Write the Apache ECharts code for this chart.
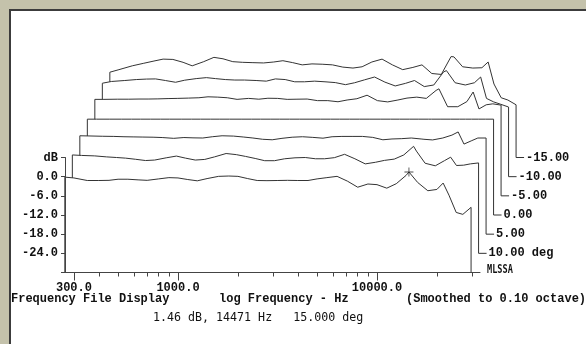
<!DOCTYPE html>
<html>
<head>
<meta charset="utf-8">
<script src="https://cdn.jsdelivr.net/npm/echarts@6/dist/echarts.min.js"></script>
<style>
html, body { margin: 0; padding: 0; width: 586px; height: 344px; overflow: hidden; background: #c4c2ab; }
#panel { position: absolute; left: 9px; top: 9px; width: 575px; height: 333px; background: #fff;
         border-left: 2px solid #3c3c3c; border-top: 2px solid #3c3c3c; }
#chart { position: absolute; left: 0; top: 0; width: 586px; height: 344px; }
</style>
</head>
<body>
<div id="panel"></div>
<div id="chart"></div>
<script>
// frequencies (Hz) shared by every curve
const freqHz = [270, 300, 350, 400, 450, 500, 560, 630, 700, 800, 900, 1000, 1120, 1250, 1400,
  1600, 1800, 2000, 2240, 2500, 2800, 3150, 3550, 4000, 4500, 5000, 5600, 6300, 7100, 8000,
  9000, 10000, 11200, 12500, 14000, 14471, 16000, 18000, 20000, 21500, 23000, 25000, 27000, 29700];

// response per angle, dB (front curve first)
const db15 = [-0.15, -0.4, -1.2, -1.2, -1.15, -0.8, -0.8, -1.0, -1.15, -0.7, -0.3, -0.4, -0.9, -1.3, -0.6,
  0.1, 0.2, 0.1, -0.6, -1.2, -1.25, -1.2, -1.15, -1.2, -1.2, -0.7, -0.3, 0.1, -1.4, -3.3,
  -2.3, -2.5, -3.6, -2.2, 0.4, 1.46, -1.8, -4.4, -4.0, -2.0, -5.8, -11.2, -11.8, -9.6];
const db10 = [0.8, 0.65, 0.5, 0.2, 0.0, -0.2, -0.55, -0.95, -0.8, -0.1, 0.45, -0.2, -0.8, -0.6, 0.2,
  1.25, 0.9, 0.35, -0.3, -1.0, -1.0, -0.4, -0.1, 0.0, -0.4, -0.4, -0.05, 1.0, -0.4, -2.0,
  -1.5, -0.9, -0.5, 0.8, 3.5, 2.0, -1.8, -2.6, -1.0, 0.1, -2.5, -2.4, -2.0, -1.7];
const db5 = [0.8, 0.75, 0.65, 0.6, 0.5, 0.45, 0.4, 0.35, 0.25, 0.0, 0.25, 0.15, 0.1, 0.5, 0.8,
  0.7, 0.4, 0.1, -0.3, -0.45, 0.0, 0.35, 0.5, 0.3, 0.05, 0.5, 0.6, 0.6, 0.6, 0.3,
  -0.45, -0.2, -0.1, 0.1, -0.2, -0.3, -0.5, 0.1, 1.0, 2.0, -1.8, -0.8, 0.1, 0.1];
const db0 = [0, 0, 0, 0, 0, 0, 0, 0, 0, 0, 0, 0, 0, 0, 0,
  0, 0, 0, 0, 0, 0, 0, 0, 0, 0, 0, 0, 0, 0, 0,
  0, 0, 0, 0, 0, 0, 0, 0, 0, 0, 0, 0, 0, 0];
const dbM5 = [0.2, 0.2, 0.25, 0.25, 0.3, 0.3, 0.35, 0.45, 0.5, 0.6, 0.7, 1.0, 0.9, 0.7, 0.2,
  0.5, 0.25, 0.55, 0.5, 0.2, 0.25, 0.3, -0.2, -0.2, -0.55, 0.0, 0.4, 1.5, -0.2, -0.6,
  0.0, 0.6, 0.9, 0.5, 3.0, 3.5, -2.1, -2.1, -0.5, 2.5, -2.8, -1.5, -1.2, -1.6];
const dbM10 = [-0.75, -0.2, 0.1, 0.4, 0.55, 0.6, 0.1, -0.45, 0.2, 0.7, 1.0, 0.7, 0.4, 0.25, 0.25,
  0.1, -0.1, 0.6, 0.4, -0.3, -0.3, -0.1, -0.3, -0.55, -1.2, -0.6, 0.3, 1.2, -0.4, -1.6,
  -0.8, 0.1, -1.8, -1.3, 2.8, 3.2, -0.6, -1.3, -0.6, 1.2, -5.5, -6.6, -7.3, -8.2];
const dbM15 = [-3.3, -2.5, -1.3, -0.5, 0.2, 0.8, 0.7, -0.2, -1.3, 0.0, 1.35, 0.9, 0.0, -0.2, -0.3,
  -0.4, -0.1, 0.3, -0.3, -1.0, -0.7, -0.8, -1.0, -1.7, -2.0, -1.6, -0.1, 0.8, -1.0, -2.5,
  -1.8, -1.0, -3.7, -4.0, 1.6, 1.5, -1.6, -2.0, -1.9, -0.1, -7.0, -11.3, -12.0, -13.5];

const dbSeries = [db15, db10, db5, db0, dbM5, dbM10, dbM15];
const curveLabels = ['MLSSA', '10.00 deg', '5.00', '0.00', '-5.00', '-10.00', '-15.00'];

const tickHz = [300, 400, 500, 600, 700, 800, 900, 1000, 2000, 3000, 4000, 5000, 6000, 7000,
  8000, 9000, 10000, 20000, 30000];
const labelHz = [300, 1000, 10000];

const cursorHz = 14471, cursorDb = 1.46, cursorDeg = 15;

// layout
const MONO = '"Liberation Mono", "DejaVu Sans Mono", monospace';
const TALL = '"DejaVu Sans Mono", monospace';
const PX_DEC = 199, PX_DB = 115 / 36;
const X_MIN = Math.log10(270.5);
const SHIFT = 7.5 / PX_DEC;    // each curve behind steps right
const TAIL = 8 / PX_DEC;       // little leader line to the angle label
const STEP_DB = 6, Y_MIN = -30, Y_MAX = 6, Y_TOP = 46;
const LINE = '#333';

const lx = freqHz.map(f => Math.log10(f));
const log = arr => arr.map(f => Math.log10(f));

// back curves first; each one gets its own z so the white fill of a
// nearer curve hides whatever lies behind it
const series = [];
for (let k = dbSeries.length - 1; k >= 0; k--) {
    const dx = k * SHIFT, base = Y_MIN + k * STEP_DB;
    const first = lx[0] + dx, last = lx[lx.length - 1] + dx;
    const pts = [[first, base]];
    lx.forEach((x, i) => pts.push([x + dx, dbSeries[k][i] + k * STEP_DB]));
    pts.push([last, base]);
    if (k > 0) pts.push([last + TAIL, base]);
    series.push({
        type: 'line', xAxisIndex: 2, yAxisIndex: 1, data: pts, z: 10 - k,
        showSymbol: false, silent: true,
        lineStyle: {color: LINE, width: 1},
        areaStyle: {color: '#fff', opacity: 1, origin: base},
        endLabel: k > 0 ? {
            show: true, formatter: curveLabels[k], distance: 2,
            color: '#111', fontFamily: MONO, fontWeight: 'bold', fontSize: 12,
        } : {show: false},
    });
}
// cursor
series.push({
    type: 'scatter', xAxisIndex: 2, yAxisIndex: 1, silent: true, z: 30,
    data: [[Math.log10(cursorHz), cursorDb]],
    symbol: 'path://M0,4.5H10V5.5H0ZM4.5,0H5.5V10H4.5Z', symbolSize: 9,
    itemStyle: {color: '#222'},
});

const g0 = {left: 65, top: 157.5, width: 415, height: 115};
const g1 = {left: 65, top: 272.5 - (Y_TOP - Y_MIN) * PX_DB, width: 521, height: (Y_TOP - Y_MIN) * PX_DB};

const labelFont = {color: '#111', fontFamily: MONO, fontWeight: 'bold', fontSize: 12};

const option = {
    animation: false,
    grid: [g0, g1],
    xAxis: [
        {
            type: 'value', gridIndex: 0, position: 'bottom', z: 20,
            min: X_MIN, max: X_MIN + g0.width / PX_DEC,
            axisLine: {show: true, onZero: false, lineStyle: {color: '#444', width: 1}},
            axisTick: {show: true, inside: false, length: 4, customValues: log(tickHz), lineStyle: {color: '#444'}},
            axisLabel: {show: false}, splitLine: {show: false},
        },
        {
            type: 'value', gridIndex: 0, position: 'bottom', z: 20,
            min: X_MIN, max: X_MIN + g0.width / PX_DEC,
            axisLine: {show: false, onZero: false},
            axisTick: {show: true, inside: false, length: 8, customValues: log(labelHz), lineStyle: {color: '#444'}},
            axisLabel: {
                show: true, customValues: log(labelHz), margin: 9, ...labelFont,
                formatter: v => Math.pow(10, v).toFixed(1),
            },
            splitLine: {show: false},
        },
        {
            type: 'value', gridIndex: 1, show: false,
            min: X_MIN, max: X_MIN + g1.width / PX_DEC,
        },
    ],
    yAxis: [
        {
            type: 'value', gridIndex: 0, z: 20,
            min: Y_MIN, max: Y_MAX, interval: 6,
            axisLine: {show: true, onZero: false, lineStyle: {color: '#444', width: 1}},
            axisTick: {show: true, inside: false, length: 4, lineStyle: {color: '#444'}},
            axisLabel: {
                margin: 7, ...labelFont,
                formatter: v => v === Y_MAX ? 'dB' : v === Y_MIN ? '' : v.toFixed(1),
            },
            splitLine: {show: false},
        },
        {
            type: 'value', gridIndex: 1, show: false, min: Y_MIN, max: Y_TOP,
        },
    ],
    graphic: [
        {type: 'text', x: 11, y: 298.5, silent: true,
         style: {text: 'Frequency File Display', font: `bold 12px ${MONO}`, fill: '#111', verticalAlign: 'middle'}},
        {type: 'text', x: 219, y: 298.5, silent: true,
         style: {text: 'log Frequency - Hz', font: `bold 12px ${MONO}`, fill: '#111', verticalAlign: 'middle'}},
        {type: 'text', x: 406, y: 298.5, silent: true,
         style: {text: '(Smoothed to 0.10 octave)', font: `bold 12px ${MONO}`, fill: '#111', verticalAlign: 'middle'}},
        {type: 'text', x: 153, y: 318, scaleX: 0.97, silent: true,
         style: {text: `${cursorDb.toFixed(2)} dB, ${cursorHz} Hz   ${cursorDeg.toFixed(3)} deg`,
                 font: `12px ${TALL}`, fill: '#111', verticalAlign: 'middle'}},
        {type: 'text', x: 487, y: 269.5, scaleX: 0.66, silent: true,
         style: {text: curveLabels[0], font: `bold 13px ${TALL}`, fill: '#111', verticalAlign: 'middle'}},
    ],
    series,
};

const myChart = echarts.init(document.getElementById('chart'));
myChart.setOption(option);
</script>
</body>
</html>
